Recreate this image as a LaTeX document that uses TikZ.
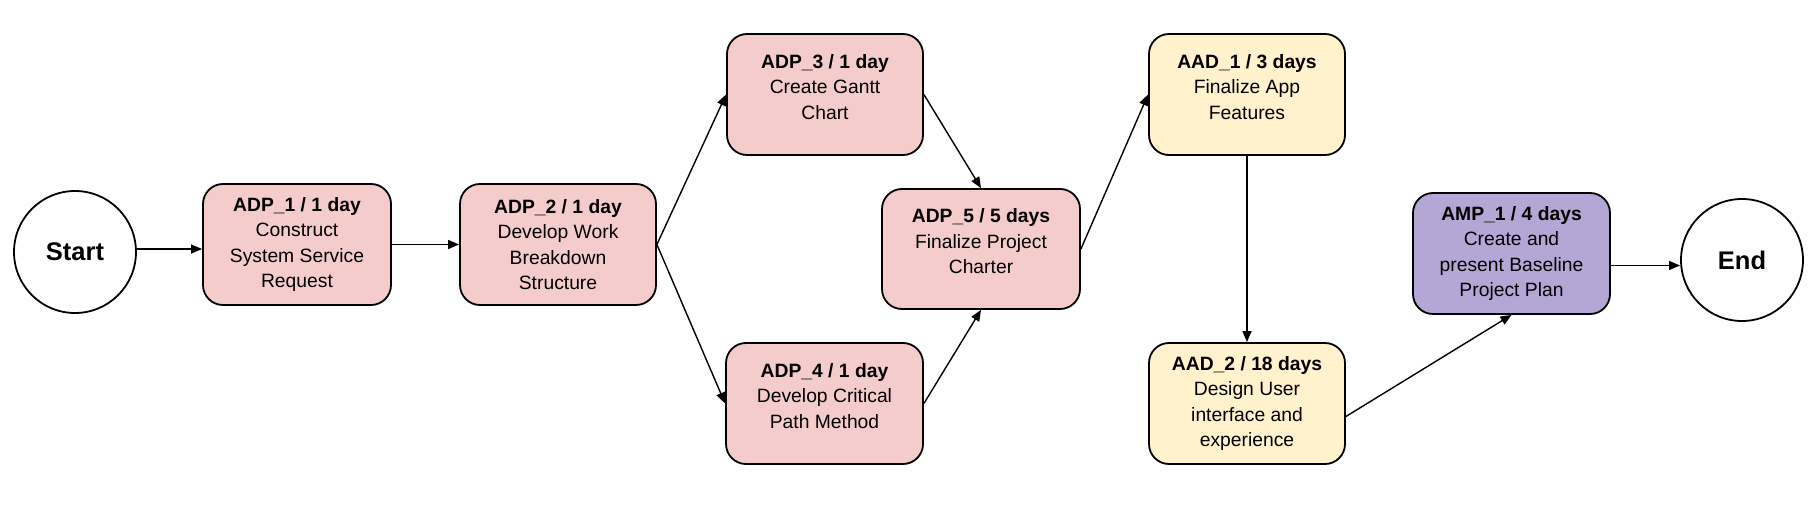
\documentclass[tikz,border=0pt]{standalone}
\usepackage{fontspec}
\setmainfont{Liberation Sans}
\usetikzlibrary{arrows.meta}
\definecolor{pinkfill}{HTML}{F4CCCC}
\definecolor{yellowfill}{HTML}{FFF2CC}
\definecolor{purplefill}{HTML}{B4A7D6}
\begin{document}
\begin{tikzpicture}[x=1pt,y=-1pt,
  task/.style={draw=black, line width=1.8pt, rounded corners=20pt, minimum height=121pt,
    inner sep=0pt, align=center, font=\fontsize{19.3}{25.5}\selectfont},
  pinkbox/.style={task, fill=pinkfill},
  yellowbox/.style={task, fill=yellowfill},
  purplebox/.style={task, fill=purplefill},
  terminal/.style={circle, draw=black, line width=1.8pt, fill=white, minimum size=122pt,
    inner sep=0pt, font=\fontsize{25.5}{30}\selectfont\bfseries},
  arr/.style={draw=black, line width=1.4pt, -{Triangle[length=11pt,width=9pt]}}]
\useasboundingbox (0,0) rectangle (1813,513);
\node[terminal] (start) at (75,252) {Start};
\node[terminal] (end) at (1742,260) {End};
\node[pinkbox, minimum width=188pt] (adp1) at (297,244.5) {\textbf{ADP\_1 / 1 day}\\Construct\\System Service\\Request};
\node[pinkbox, minimum width=196pt] (adp2) at (558,244.5) {\textbf{ADP\_2 / 1 day}\\Develop Work\\Breakdown\\Structure};
\node[pinkbox, minimum width=196pt] (adp3) at (825,94.5) {\textbf{ADP\_3 / 1 day}\\Create Gantt\\Chart\\[-10pt]\mbox{}};
\node[pinkbox, minimum width=197pt] (adp4) at (824.5,403.5) {\textbf{ADP\_4 / 1 day}\\Develop Critical\\Path Method\\[-10pt]\mbox{}};
\node[pinkbox, minimum width=198pt, minimum height=120pt] (adp5) at (981,249) {\textbf{ADP\_5 / 5 days}\\Finalize Project\\Charter\\[-10pt]\mbox{}};
\node[yellowbox, minimum width=196pt] (aad1) at (1247,94.5) {\textbf{AAD\_1 / 3 days}\\Finalize App\\Features\\[-10pt]\mbox{}};
\node[yellowbox, minimum width=196pt] (aad2) at (1247,403.5) {\textbf{AAD\_2 / 18 days}\\Design User\\interface and\\experience};
\node[purplebox, minimum width=197pt] (amp1) at (1511.5,253.5) {\textbf{AMP\_1 / 4 days}\\Create and\\present Baseline\\Project Plan};
\draw[arr] ([yshift=3pt]start.east) -- ([yshift=3pt]start.east -| adp1.west);
\draw[arr] (adp1.east) -- (adp2.west);
\draw[arr] (adp2.east) -- (adp3.west);
\draw[arr] (adp2.east) -- (adp4.west);
\draw[arr] (adp3.east) -- (adp5.north);
\draw[arr] (adp4.east) -- (adp5.south);
\draw[arr] (adp5.east) -- (aad1.west);
\draw[arr] (aad1.south) -- (aad2.north);
\draw[arr] ([yshift=-13pt]aad2.east) -- (amp1.south);
\draw[arr] ([yshift=-12pt]amp1.east) -- ([yshift=-12pt]amp1.east -| end.west);
\end{tikzpicture}
\end{document}
